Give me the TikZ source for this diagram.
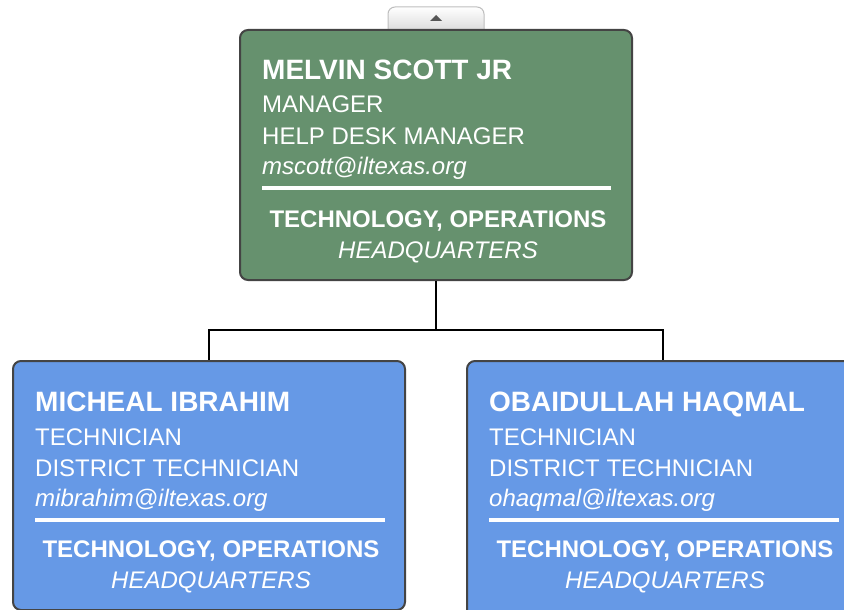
\documentclass[tikz,border=0pt]{standalone}
\usepackage{fontspec}
\setmainfont{Liberation Sans}
\usetikzlibrary{shadings}
\definecolor{cardgreen}{RGB}{102,145,110}
\definecolor{cardblue}{RGB}{102,153,230}
\definecolor{cardedge}{RGB}{68,68,68}
\definecolor{tabedge}{RGB}{190,190,190}
\definecolor{tabarrow}{RGB}{85,85,85}
\tikzset{
  card/.style={draw=cardedge, line width=2pt, rounded corners=8pt, minimum width=392pt, inner sep=0pt},
  namebox/.style={anchor=base west, inner sep=0pt, text=white, font=\bfseries\fontsize{28}{32}\selectfont},
  linebox/.style={anchor=base west, inner sep=0pt, text=white, font=\fontsize{24}{28}\selectfont},
  mailbox/.style={anchor=base west, inner sep=0pt, text=white, font=\itshape\fontsize{24}{28}\selectfont},
  deptbox/.style={anchor=base, inner sep=0pt, text=white, font=\bfseries\fontsize{24}{28}\selectfont},
  hqbox/.style={anchor=base, inner sep=0pt, text=white, font=\itshape\fontsize{24}{28}\selectfont},
  rulebar/.style={draw=white, line width=4pt},
  link/.style={draw=black, line width=2pt}
}
\begin{document}
\begin{tikzpicture}[x=1pt,y=-1pt]
\clip (0,0) rectangle (844,610);
\fill[white] (0,0) rectangle (844,610);
% tab
\path[draw=tabedge, line width=1pt, top color=white, bottom color=black!15, rounded corners=7pt]
  (388,32) -- (388,7) -- (484,7) -- (484,32);
\fill[tabarrow] (430,21) -- (442,21) -- (436,15) -- cycle;
% cards
\node[card, fill=cardgreen, minimum height=250pt] (mgr) at (436,155) {};
\node[card, fill=cardblue, minimum height=249pt] (c1) at (209,485.5) {};
\node[card, fill=cardblue, minimum height=260pt] (c2) at (663,491) {};
% connectors
\coordinate (j) at (436,330);
\draw[link] (mgr.south) -- (j);
\draw[link] (j) -| (c1.north);
\draw[link] (j) -| (c2.north);
% manager text
\node[namebox] (n0) at (262,80) {MELVIN SCOTT JR};
\node[linebox] (t0) at (262,113) {MANAGER};
\node[linebox] (p0) at (262,144) {HELP DESK MANAGER};
\node[mailbox] (m0) at (262,174) {mscott@iltexas.org};
\draw[rulebar] (262,188) -- (611,188);
\node[deptbox] (d0) at (438,227) {TECHNOLOGY, OPERATIONS};
\node[hqbox] (h0) at (438,258) {HEADQUARTERS};
% child 1
\node[namebox] (n1) at (35,411) {MICHEAL IBRAHIM};
\node[linebox] (t1) at (35,445) {TECHNICIAN};
\node[linebox] (p1) at (35,476) {DISTRICT TECHNICIAN};
\node[mailbox] (m1) at (35,506) {mibrahim@iltexas.org};
\draw[rulebar] (35,520) -- (385,520);
\node[deptbox] (d1) at (211,557) {TECHNOLOGY, OPERATIONS};
\node[hqbox] (h1) at (211,588) {HEADQUARTERS};
% child 2
\node[namebox] (n2) at (489,411) {OBAIDULLAH HAQMAL};
\node[linebox] (t2) at (489,445) {TECHNICIAN};
\node[linebox] (p2) at (489,476) {DISTRICT TECHNICIAN};
\node[mailbox] (m2) at (489,506) {ohaqmal@iltexas.org};
\draw[rulebar] (489,520) -- (839,520);
\node[deptbox] (d2) at (665,557) {TECHNOLOGY, OPERATIONS};
\node[hqbox] (h2) at (665,588) {HEADQUARTERS};
\end{tikzpicture}
\end{document}
